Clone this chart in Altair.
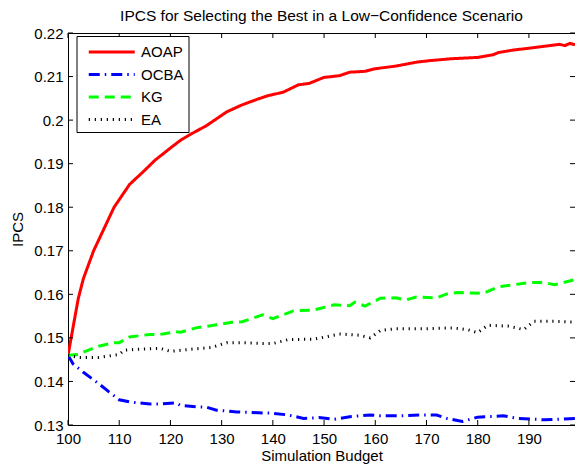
import altair as alt
import pandas as pd

# ---- data ----
aoap_budget = [100, 102, 103, 105, 107, 109, 112, 115, 117, 120, 122, 124, 127, 131, 134, 137, 139,
               142, 145, 147, 150, 153, 155, 158, 160, 164, 168, 171, 175, 180, 183, 184, 187, 190,
               194, 196, 197, 198, 199]
aoap_ipcs = [0.1460, 0.1590, 0.1636, 0.1700, 0.1750, 0.1800, 0.1852, 0.1885, 0.1908, 0.1936, 0.1954,
             0.1968, 0.1987, 0.2019, 0.2035, 0.2048, 0.2056, 0.2064, 0.2081, 0.2084, 0.2098, 0.2102,
             0.2110, 0.2112, 0.2118, 0.2124, 0.2133, 0.2137, 0.2141, 0.2144, 0.2150, 0.2155, 0.2161,
             0.2165, 0.2171, 0.2174, 0.2171, 0.2176, 0.2173]

ocba_budget = [100, 101, 103, 106, 108, 110, 112, 116, 118, 121, 122, 125, 127, 129, 133, 135, 140,
               143, 146, 149, 152, 155, 159, 161, 165, 169, 172, 174, 177, 180, 185, 188, 193, 199]
ocba_ipcs = [0.1460, 0.1440, 0.1421, 0.1395, 0.1376, 0.1358, 0.1353, 0.1348, 0.1348, 0.1351, 0.1345,
             0.1342, 0.1341, 0.1334, 0.1330, 0.1329, 0.1327, 0.1323, 0.1315, 0.1317, 0.1313, 0.1319,
             0.1323, 0.1321, 0.1321, 0.1323, 0.1323, 0.1315, 0.1308, 0.1318, 0.1321, 0.1315, 0.1312,
             0.1315]

kg_budget = [100, 102, 104, 106, 109, 110, 112, 116, 118, 121, 122, 125, 129, 132, 134, 138, 140,
             144, 148, 152, 155, 156, 158, 161, 164, 166, 168, 172, 174, 176, 179, 181, 184, 187,
             190, 193, 195, 199]
kg_ipcs = [0.1460, 0.1462, 0.1472, 0.1481, 0.1489, 0.1489, 0.1502, 0.1508, 0.1508, 0.1514, 0.1513,
           0.1523, 0.1530, 0.1536, 0.1537, 0.1553, 0.1544, 0.1562, 0.1564, 0.1576, 0.1574, 0.1582,
           0.1573, 0.1591, 0.1592, 0.1587, 0.1594, 0.1592, 0.1601, 0.1604, 0.1603, 0.1602, 0.1617,
           0.1622, 0.1627, 0.1627, 0.1622, 0.1634]

ea_budget = [100, 102, 106, 110, 111, 114, 118, 120, 124, 128, 131, 134, 138, 140, 143, 148, 151,
             153, 157, 159, 161, 164, 170, 175, 178, 180, 182, 186, 189, 191, 195, 199]
ea_ipcs = [0.1460, 0.1455, 0.1455, 0.1462, 0.1472, 0.1474, 0.1476, 0.1469, 0.1474, 0.1478, 0.1489,
           0.1489, 0.1487, 0.1487, 0.1496, 0.1497, 0.1504, 0.1509, 0.1506, 0.1500, 0.1517, 0.1521,
           0.1521, 0.1523, 0.1519, 0.1512, 0.1529, 0.1527, 0.1519, 0.1538, 0.1538, 0.1536]

series_names = ["AOAP", "OCBA", "KG", "EA"]
x_ticks = [100, 110, 120, 130, 140, 150, 160, 170, 180, 190]
y_ticks = [0.13, 0.14, 0.15, 0.16, 0.17, 0.18, 0.19, 0.20, 0.21, 0.22]

# ---- styles ----
series_colors = ["#ff0000", "#0000ff", "#00ff00", "#000000"]
series_dash = [[1, 0], [11, 5, 1.5, 5], [10, 6], [1.2, 4.8]]
series_width = [3, 3, 3, 1.5]
FONT = "Liberation Sans"
W, H = 507, 392

rows = []
for name, xs, ys in [("AOAP", aoap_budget, aoap_ipcs), ("OCBA", ocba_budget, ocba_ipcs),
                     ("KG", kg_budget, kg_ipcs), ("EA", ea_budget, ea_ipcs)]:
    for b, v in zip(xs, ys):
        rows.append({"series": name, "budget": b, "ipcs": v})
df = pd.DataFrame(rows)

x_scale = alt.Scale(domain=[100, 199], nice=False, zero=False)
y_scale = alt.Scale(domain=[0.13, 0.22], nice=False, zero=False)

x_axis = alt.Axis(values=x_ticks, format="d", title="Simulation Budget",
                  titleY=35.5, titleBaseline="alphabetic", labelPadding=6, labelFlush=False)
y_axis = alt.Axis(values=y_ticks, format=".2~f", title="IPCS", titleX=-46,
                  titleY=H / 2, titleBaseline="alphabetic", labelPadding=5, labelFlush=False)

legend_kw = dict(
    title=None, orient="none", legendX=8.5, legendY=3,
    symbolType="M-0.375,0L4.225,0", symbolSize=400,
    labelFont=FONT, labelFontSize=15, labelColor="black", labelOffset=37,
    rowPadding=2.5, padding=4.5, strokeColor="black", fillColor="white",
    cornerRadius=0, symbolFillColor="transparent",
)

lines = alt.Chart(df).mark_line(clip=True).encode(
    x=alt.X("budget:Q", scale=x_scale, axis=x_axis),
    y=alt.Y("ipcs:Q", scale=y_scale, axis=y_axis),
    color=alt.Color("series:N", scale=alt.Scale(domain=series_names, range=series_colors),
                    legend=alt.Legend(**legend_kw)),
    strokeDash=alt.StrokeDash("series:N", scale=alt.Scale(domain=series_names, range=series_dash),
                              legend=alt.Legend(**legend_kw)),
    strokeWidth=alt.StrokeWidth("series:N", scale=alt.Scale(domain=series_names, range=series_width),
                                legend=alt.Legend(**legend_kw)),
)

ytd = pd.DataFrame({"ipcs": y_ticks})
xtd = pd.DataFrame({"budget": x_ticks})
tick_l = alt.Chart(ytd).mark_rule(color="black", strokeWidth=1).encode(
    y=alt.Y("ipcs:Q", scale=y_scale, axis=y_axis), x=alt.value(0), x2=alt.value(5))
tick_r = alt.Chart(ytd).mark_rule(color="black", strokeWidth=1).encode(
    y=alt.Y("ipcs:Q", scale=y_scale, axis=y_axis), x=alt.value(W - 5), x2=alt.value(W))
tick_b = alt.Chart(xtd).mark_rule(color="black", strokeWidth=1).encode(
    x=alt.X("budget:Q", scale=x_scale, axis=x_axis), y=alt.value(H - 5), y2=alt.value(H))
tick_t = alt.Chart(xtd).mark_rule(color="black", strokeWidth=1).encode(
    x=alt.X("budget:Q", scale=x_scale, axis=x_axis), y=alt.value(0), y2=alt.value(5))

chart = alt.layer(lines, tick_l, tick_r, tick_b, tick_t).properties(
    width=W, height=H,
    autosize="none",
    padding={"left": 60, "top": 25, "right": 0, "bottom": 39},
    background="white",
    title=alt.Title("IPCS for Selecting the Best in a Low\u2212Confidence Scenario",
                    font=FONT, fontSize=15.5, fontWeight="normal", color="black",
                    offset=2, frame="group"),
).configure_view(
    stroke="black", strokeWidth=1
).configure_axis(
    labelFont=FONT, labelFontSize=15, labelColor="black",
    titleFont=FONT, titleFontSize=15, titleColor="black", titleFontWeight="normal",
    domain=False, ticks=False, tickSize=0, grid=False,
)

chart.save("out.html", embed_options={"renderer": "svg", "actions": False})
